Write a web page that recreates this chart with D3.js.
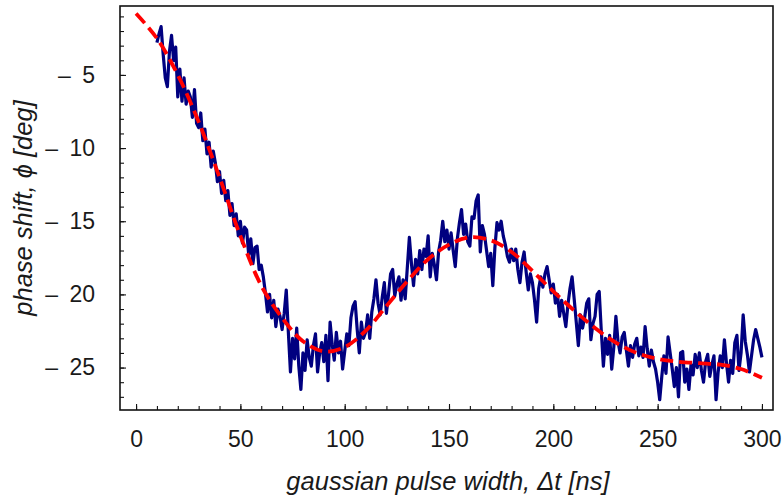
<!DOCTYPE html>
<html>
<head>
<meta charset="utf-8">
<script src="https://cdn.jsdelivr.net/npm/d3@7/dist/d3.min.js"></script>
<style>
  html, body { margin: 0; padding: 0; background: #fff; }
  svg { display: block; }
  text { font-family: "Liberation Sans", Arial, Helvetica, sans-serif; fill: #1a1a1a; }
</style>
</head>
<body>
<svg id="chart" width="783" height="497"></svg>
<script>
// Measured phase shift (deg), one sample per ns starting at 10 ns
const pulseStart = 10;
const pulseStep = 1;
const phaseMeasured = [
  -2.8, -2.2, -1.7, -3.6, -5.2, -5.8, -3.4, -2.3, -4.0, -3.1,
  -6.5, -4.6, -6.8, -5.2, -7.0, -6.1, -6.5, -7.9, -6.0, -8.3,
  -8.6, -7.6, -9.5, -8.7, -10.4, -9.6, -11.3, -10.2, -11.0, -12.3,
  -11.6, -13.1, -12.2, -13.6, -12.9, -14.6, -13.8, -15.3, -14.5, -16.0,
  -15.0, -16.5, -15.4, -15.6, -17.3, -16.2, -17.9, -16.8, -16.7, -18.3,
  -18.0, -18.8, -19.9, -21.2, -20.0, -21.6, -20.4, -22.2, -21.0, -21.5,
  -22.4, -21.3, -19.7, -22.6, -25.3, -23.0, -24.4, -22.3, -24.9, -26.5,
  -24.0, -25.2, -23.1, -24.3, -24.9, -23.5, -22.7, -25.3, -24.0, -23.3,
  -24.6, -22.8, -25.9, -21.9, -23.4, -24.5, -22.6, -24.0, -23.2, -25.1,
  -23.9, -22.7, -23.5, -21.6, -20.8, -20.5, -22.4, -24.0, -21.9, -23.0,
  -22.6, -21.4, -23.0, -21.2, -20.3, -19.0, -20.6, -21.4, -20.2, -19.2,
  -21.3, -20.0, -18.6, -18.3, -20.1, -19.3, -18.8, -20.4, -19.0, -20.3,
  -18.2, -16.1, -17.9, -19.4, -17.6, -18.6, -17.0, -18.3, -16.9, -17.4,
  -16.0, -18.8, -17.2, -18.0, -19.0, -17.1, -16.3, -15.0, -16.4, -15.6,
  -16.9, -15.8, -17.0, -18.1, -16.2, -15.1, -14.2, -15.9, -15.2, -16.4,
  -16.7, -14.7, -14.8, -13.6, -13.2, -17.1, -15.3, -15.9, -17.0, -18.1,
  -17.2, -19.4, -16.8, -15.1, -15.6, -15.0, -16.0, -16.6, -17.4, -17.8,
  -16.9, -17.7, -16.9, -18.3, -19.2, -17.8, -17.1, -18.5, -19.7, -18.6,
  -19.2, -20.4, -21.9, -19.6, -18.8, -19.5, -18.6, -18.1, -19.0, -19.9,
  -19.3, -20.6, -20.0, -21.5, -20.4, -21.3, -22.2, -20.7, -19.6, -18.8,
  -20.3, -21.9, -23.5, -21.4, -22.3, -21.6, -20.6, -20.3, -23.1, -22.0,
  -21.5, -20.0, -19.8, -22.5, -24.9, -23.0, -24.1, -22.8, -25.1, -23.6,
  -21.5, -23.2, -24.0, -22.9, -22.6, -23.8, -24.9, -23.5, -24.3, -23.4,
  -23.0, -24.2, -23.6, -24.3, -22.2, -23.7, -24.9, -23.8, -24.6, -25.1,
  -26.0, -27.2, -25.6, -24.2, -25.4, -22.9, -24.0, -25.1, -26.3, -25.0,
  -27.0, -24.0, -23.9, -26.0, -25.1, -26.5, -24.8, -25.5, -24.1, -25.0,
  -24.0, -25.2, -26.0, -24.6, -24.1, -25.6, -24.8, -24.2, -27.2, -25.3,
  -24.2, -25.0, -23.1, -24.7, -26.0, -24.5, -25.4, -23.3, -22.8, -25.2,
  -24.0, -21.4, -23.2, -24.1, -25.3, -24.2, -23.1, -22.4, -23.0, -23.6,
  -24.3
];

// Fitted model curve (deg) at 10 ns spacing
const fitWidth = [0, 10, 20, 30, 40, 50, 60, 70, 80, 90, 100, 110, 120, 130, 140, 150,
                  160, 170, 180, 190, 200, 210, 220, 230, 240, 250, 260, 270, 280, 290, 300];
const fitPhase = [-0.8, -2.5, -5.0, -8.2, -12.0, -16.0, -19.4, -21.6, -23.2, -23.9, -23.6,
                  -22.5, -20.8, -19.1, -17.6, -16.6, -16.1, -16.3, -17.1, -18.4, -19.8,
                  -21.1, -22.3, -23.3, -24.0, -24.4, -24.6, -24.7, -24.8, -25.1, -25.7];

// Axis ticks
const xMajorTicks = [0, 50, 100, 150, 200, 250, 300];
const xMinorTicks = d3.range(0, 301, 10);
const yMajorTicks = [-5, -10, -15, -20, -25];
const yMinorTicks = d3.range(-1, -28, -1);

const xTitle = "gaussian pulse width, \u0394t [ns]";
const yTitle = "phase shift, \u03d5 [deg]";

// Layout
const frame = { left: 120, top: 6, right: 773, bottom: 410 };

const x = d3.scaleLinear().domain([-7.7, 305.3]).range([frame.left, frame.right]);
const y = d3.scaleLinear().domain([-0.29, -27.9]).range([frame.top, frame.bottom]);

const svg = d3.select("#chart");
svg.append("rect").attr("width", 783).attr("height", 497).attr("fill", "#fff");

const measured = phaseMeasured.map((v, i) => [pulseStart + i * pulseStep, v]);
const fitted = fitWidth.map((w, i) => [w, fitPhase[i]]);

const plot = svg.append("g");

// Measured trace
plot.append("path")
  .datum(measured)
  .attr("fill", "none")
  .attr("stroke", "#000080")
  .attr("stroke-width", 3.2)
  .attr("stroke-linejoin", "round")
  .attr("d", d3.line().x(d => x(d[0])).y(d => y(d[1])));

// Fit, dashed
plot.append("path")
  .datum(fitted)
  .attr("fill", "none")
  .attr("stroke", "#ff0000")
  .attr("stroke-width", 3.8)
  .attr("stroke-dasharray", "13,6")
  .attr("d", d3.line().curve(d3.curveCatmullRom.alpha(0.5)).x(d => x(d[0])).y(d => y(d[1])));

// Frame
svg.append("rect")
  .attr("x", frame.left).attr("y", frame.top)
  .attr("width", frame.right - frame.left).attr("height", frame.bottom - frame.top)
  .attr("fill", "none").attr("stroke", "#111").attr("stroke-width", 1.6);

// Bottom axis: inward ticks
const xMinorAxis = d3.axisBottom(x).tickValues(xMinorTicks).tickSize(-4).tickFormat("");
const xMajorAxis = d3.axisBottom(x).tickValues(xMajorTicks).tickSize(-6).tickPadding(21)
  .tickFormat(d3.format("d"));

const gxm = svg.append("g").attr("transform", `translate(0,${frame.bottom})`).call(xMinorAxis);
const gx = svg.append("g").attr("transform", `translate(0,${frame.bottom})`).call(xMajorAxis);
[gxm, gx].forEach(g => {
  g.select(".domain").remove();
  g.selectAll("line").attr("stroke", "#111").attr("stroke-width", 1.1);
});
gx.selectAll("text")
  .attr("font-size", 23).attr("fill", "#1a1a1a")
  .attr("font-family", "'Liberation Sans', Arial, sans-serif");

// Left axis: inward ticks, labels shown as "– n"
const yMinorAxis = d3.axisLeft(y).tickValues(yMinorTicks).tickSize(-4).tickFormat("");
const yMajorAxis = d3.axisLeft(y).tickValues(yMajorTicks).tickSize(-6).tickPadding(25)
  .tickFormat(d => "\u2013\u2002" + Math.abs(d));

const gym = svg.append("g").attr("transform", `translate(${frame.left},0)`).call(yMinorAxis);
const gy = svg.append("g").attr("transform", `translate(${frame.left},0)`).call(yMajorAxis);
[gym, gy].forEach(g => {
  g.select(".domain").remove();
  g.selectAll("line").attr("stroke", "#111").attr("stroke-width", 1.1);
});
gy.selectAll("text")
  .attr("font-size", 23).attr("fill", "#1a1a1a")
  .attr("font-family", "'Liberation Sans', Arial, sans-serif");

// Axis titles
svg.append("text")
  .attr("x", (x(0) + x(300)) / 2 - 1).attr("y", 490)
  .attr("text-anchor", "middle")
  .attr("font-size", 25.5).attr("font-style", "italic")
  .text(xTitle);

svg.append("text")
  .attr("transform", `translate(32,${(frame.top + frame.bottom) / 2}) rotate(-90)`)
  .attr("text-anchor", "middle")
  .attr("font-size", 25.5).attr("font-style", "italic")
  .text(yTitle);
</script>
</body>
</html>
